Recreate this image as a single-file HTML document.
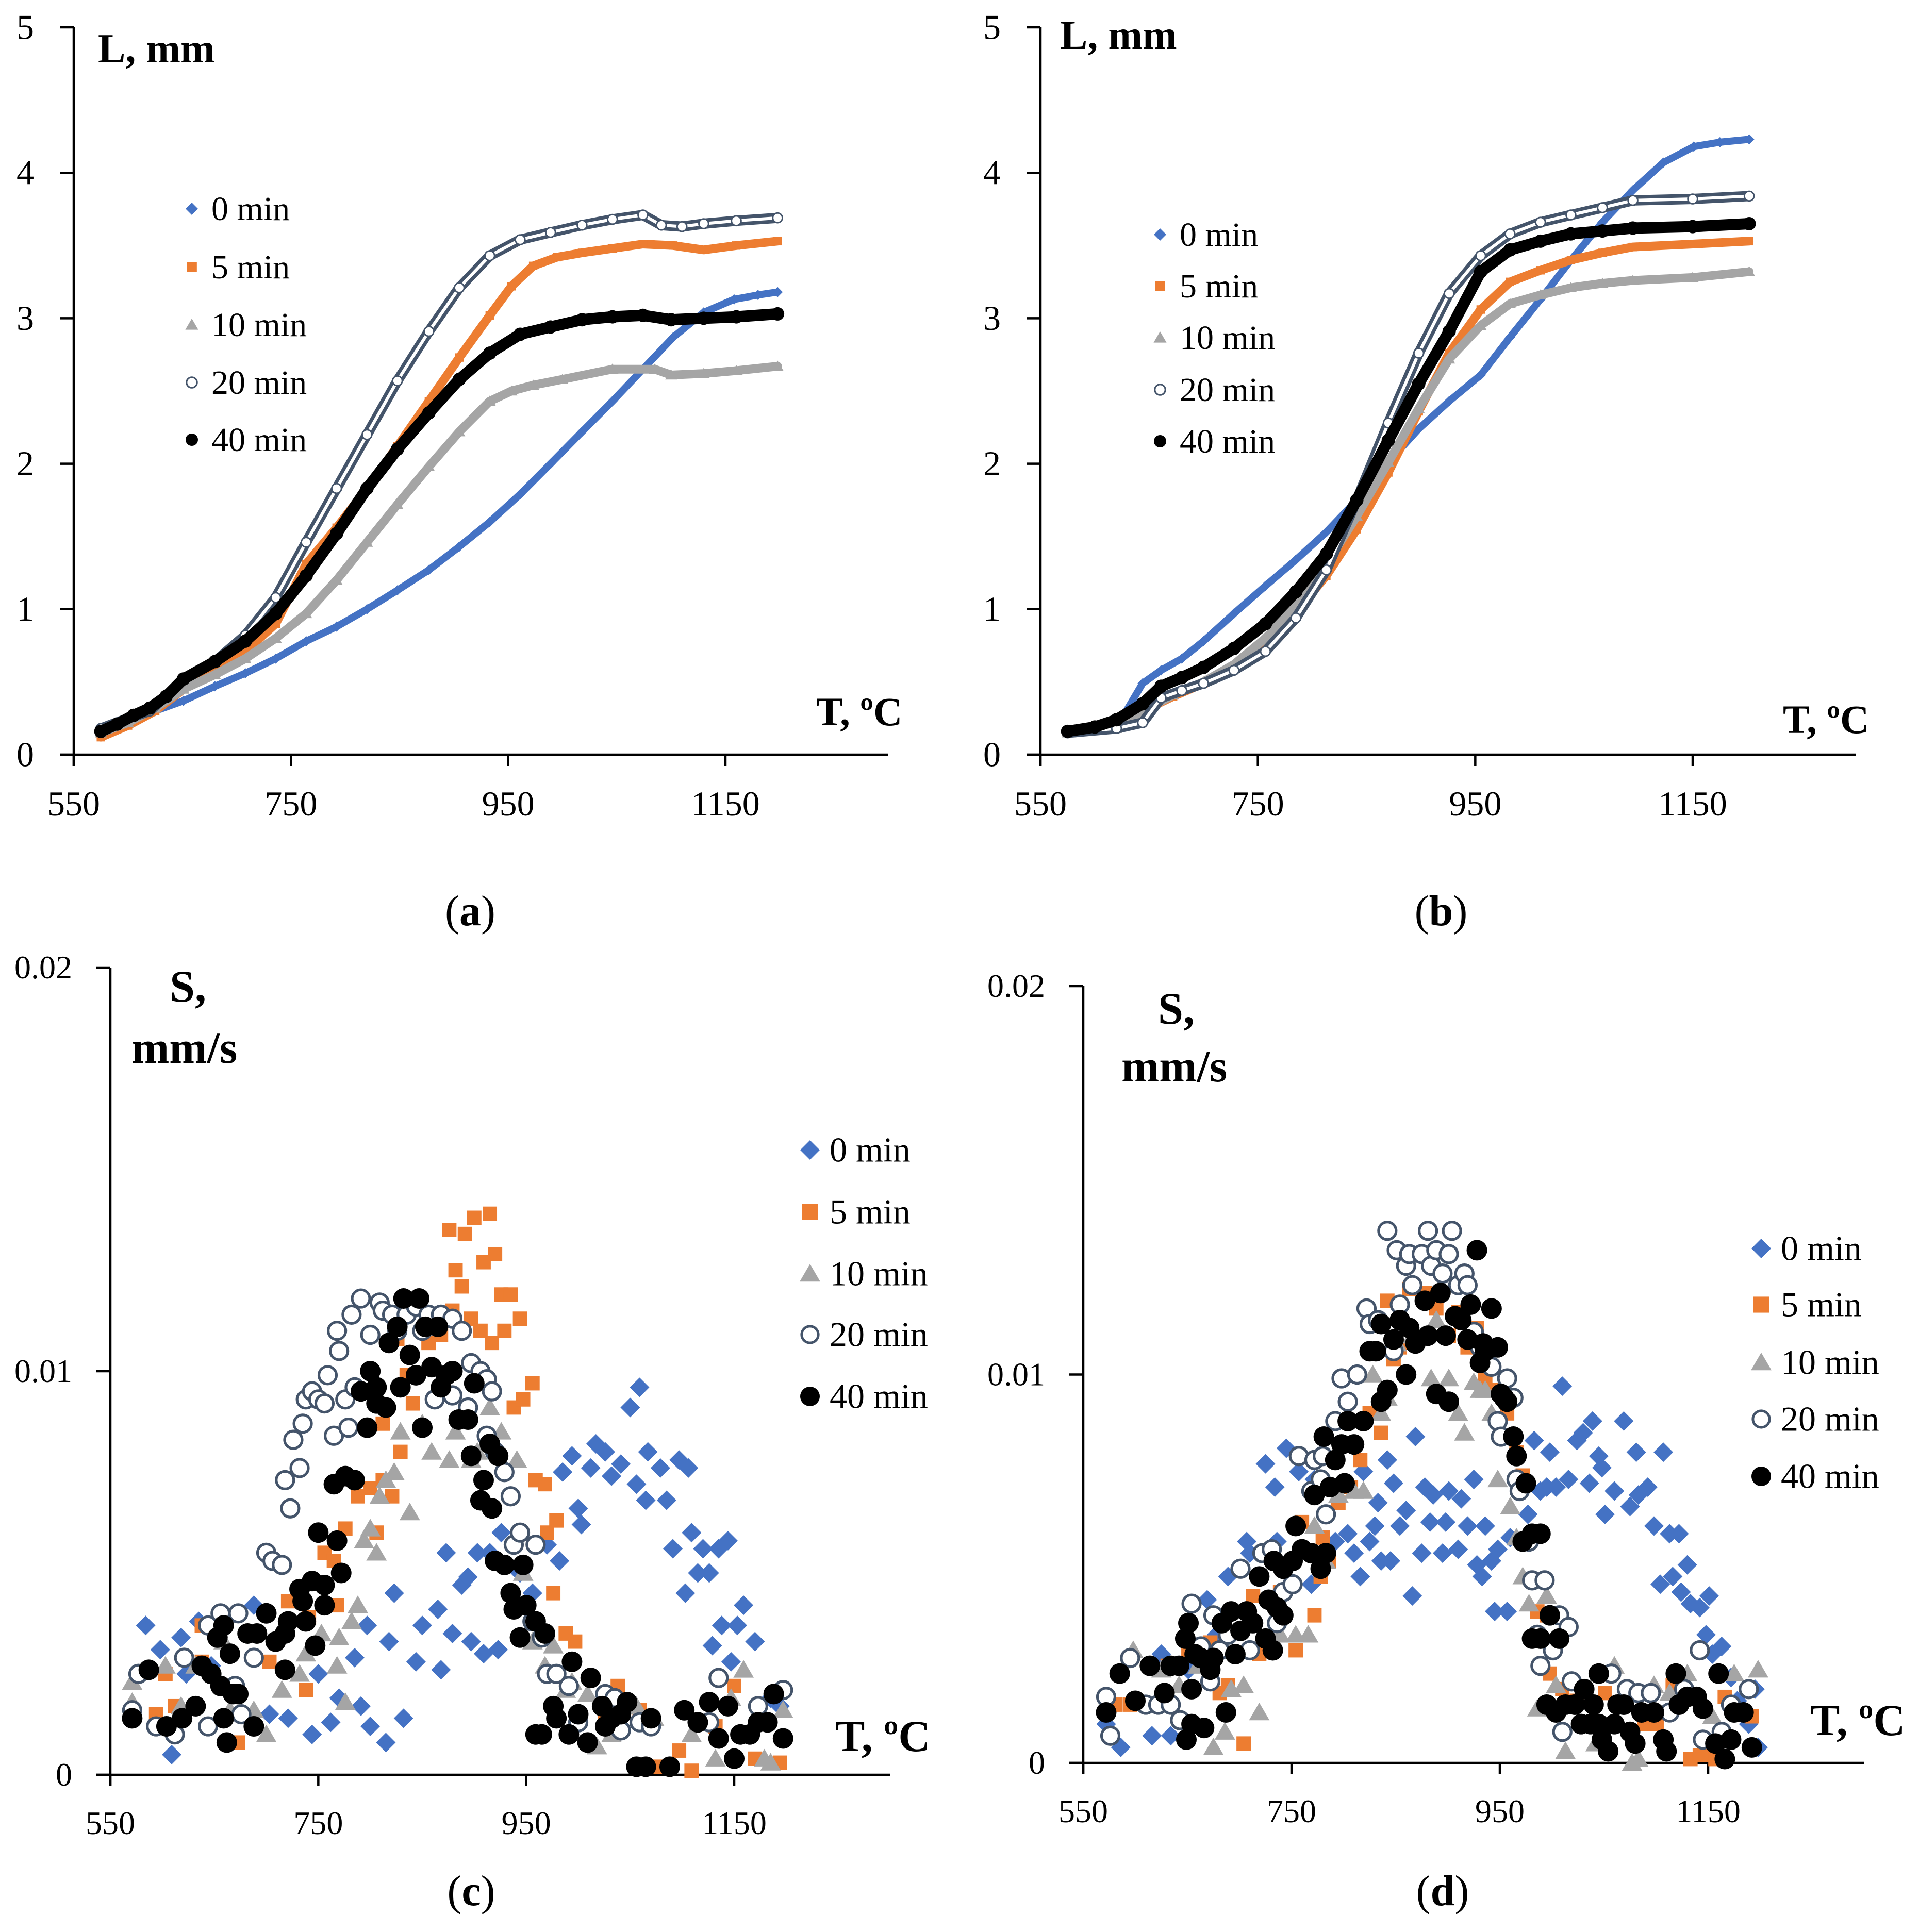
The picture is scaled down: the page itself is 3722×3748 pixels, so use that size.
<!DOCTYPE html>
<html><head><meta charset="utf-8"><style>
html,body{margin:0;padding:0;background:#fff;}
svg{display:block;}
text{font-family:"Liberation Serif",serif;fill:#000;}
</style></head><body>
<svg id="fig" xmlns="http://www.w3.org/2000/svg" width="3722" height="3748" viewBox="0 0 3722 3748"></svg>
<script>
// ---------- Panel (a): L vs T ----------
const A_T0=[575,600,625,651,680,708,736,764,792,820,848,877,905,933,961,989,1018,1046,1074,1102,1130,1158,1180,1198];
const A_L0=[0.15,0.22,0.30,0.37,0.47,0.56,0.66,0.78,0.88,1.00,1.13,1.27,1.43,1.60,1.79,2.00,2.22,2.43,2.65,2.87,3.04,3.13,3.16,3.18];
const A_T5=[575,600,625,651,680,708,736,764,792,820,848,877,905,933,953,973,995,1018,1046,1074,1102,1130,1160,1198];
const A_L5=[0.12,0.20,0.30,0.45,0.57,0.71,0.90,1.31,1.56,1.83,2.12,2.43,2.73,3.02,3.22,3.36,3.42,3.45,3.48,3.51,3.50,3.47,3.50,3.53];
const A_T10=[575,600,625,651,680,708,736,764,792,820,848,877,905,933,953,973,1000,1046,1085,1100,1130,1160,1198];
const A_L10=[0.15,0.22,0.32,0.45,0.55,0.66,0.80,0.97,1.20,1.46,1.72,1.98,2.22,2.43,2.50,2.54,2.58,2.65,2.65,2.61,2.62,2.64,2.67];
const A_T20=[575,600,620,651,680,708,736,764,792,820,848,877,905,933,961,989,1018,1046,1074,1091,1110,1130,1160,1198];
const A_L20=[0.18,0.25,0.30,0.52,0.64,0.82,1.08,1.46,1.83,2.20,2.57,2.91,3.21,3.43,3.54,3.59,3.64,3.68,3.71,3.64,3.63,3.65,3.67,3.69];
const A_T40=[575,590,605,620,635,651,680,708,736,764,792,820,848,877,905,933,961,989,1018,1046,1074,1100,1130,1160,1198];
const A_L40=[0.16,0.21,0.27,0.32,0.40,0.52,0.64,0.78,0.97,1.23,1.52,1.83,2.10,2.35,2.58,2.76,2.89,2.94,2.99,3.01,3.02,2.99,3.00,3.01,3.03];
// ---------- Panel (b): L vs T ----------
const B_T0=[575,600,625,644,661,680,700,728,757,785,813,841,870,898,926,955,982,1010,1038,1067,1095,1123,1151,1175,1202];
const B_L0=[0.15,0.17,0.25,0.49,0.58,0.66,0.78,0.97,1.16,1.34,1.53,1.75,2.01,2.24,2.43,2.61,2.87,3.13,3.40,3.66,3.88,4.07,4.18,4.21,4.23];
const B_T5=[575,620,644,672,700,728,757,785,813,841,870,898,926,955,982,1010,1038,1067,1095,1150,1202];
const B_L5=[0.15,0.18,0.30,0.40,0.49,0.61,0.78,0.98,1.23,1.55,1.94,2.36,2.76,3.06,3.25,3.33,3.40,3.45,3.49,3.51,3.53];
const B_T10=[575,620,644,672,700,728,757,785,813,841,870,898,926,955,982,1010,1038,1067,1095,1150,1202];
const B_L10=[0.15,0.18,0.30,0.41,0.50,0.62,0.80,1.02,1.31,1.64,2.01,2.38,2.72,2.95,3.10,3.16,3.21,3.24,3.26,3.28,3.32];
const B_T20=[575,620,644,661,680,700,728,757,785,813,841,870,898,926,955,982,1010,1038,1067,1095,1150,1202];
const B_L20=[0.15,0.18,0.22,0.39,0.44,0.49,0.58,0.71,0.94,1.27,1.75,2.28,2.76,3.17,3.43,3.58,3.66,3.71,3.76,3.81,3.82,3.84];
const B_T40=[575,600,620,644,661,680,700,728,757,785,813,841,870,898,926,955,982,1010,1038,1067,1095,1150,1202];
const B_L40=[0.16,0.19,0.24,0.35,0.47,0.53,0.60,0.73,0.90,1.12,1.38,1.75,2.16,2.55,2.91,3.32,3.47,3.53,3.58,3.60,3.62,3.63,3.65];
// ---------- Panel (c): S vs T ----------
const C0=[[584,.0037],[598,.0031],[618,.0034],[623,.0025],[609,.0005],[635,.0038],[647,.0027],[688,.0042],[703,.0015],[721,.0014],[744,.0010],[750,.0025],[762,.0013],[770,.0019],[785,.0029],[791,.0017],[800,.0012],[797,.0037],[815,.0008],[823,.0045],[818,.0033],[832,.0014],[844,.0028],[850,.0037],[865,.0041],[868,.0026],[873,.0055],[879,.0035],[888,.0047],[894,.0049],[897,.0033],[903,.0055],[909,.0030],[915,.0055],[923,.0031],[926,.0060],[944,.0050],[956,.0045],[970,.0057],[982,.0053],[985,.0075],[994,.0079],[1000,.0066],[1003,.0062],[1012,.0076],[1017,.0082],[1026,.0080],[1032,.0074],[1041,.0077],[1050,.0091],[1059,.0096],[1056,.0072],[1065,.0068],[1067,.0080],[1079,.0076],[1085,.0068],[1091,.0056],[1097,.0078],[1106,.0076],[1103,.0045],[1109,.0060],[1115,.0050],[1120,.0056],[1126,.0050],[1135,.0056],[1144,.0058],[1129,.0032],[1138,.0037],[1153,.0037],[1159,.0042],[1147,.0028],[1170,.0033],[1173,.0017],[1185,.0019],[1194,.0017]];
const C5=[[603,.0025],[612,.0017],[594,.0015],[638,.0037],[638,.0028],[673,.0008],[703,.0028],[721,.0043],[738,.0021],[741,.0039],[756,.0055],[765,.0053],[776,.0061],[768,.0042],[788,.0069],[800,.0071],[806,.0060],[812,.0073],[821,.0069],[812,.0087],[829,.0080],[835,.0099],[841,.0092],[826,.0108],[856,.0107],[868,.0109],[876,.0135],[882,.0125],[888,.0121],[891,.0134],[900,.0138],[915,.0139],[879,.0115],[897,.0113],[909,.0127],[920,.0129],[906,.0110],[917,.0107],[926,.0119],[935,.0119],[929,.0110],[944,.0113],[938,.0091],[947,.0093],[956,.0097],[959,.0073],[968,.0072],[970,.0060],[979,.0063],[976,.0045],[988,.0035],[997,.0033],[1026,.0014],[1038,.0022],[1059,.0016],[1079,.0002],[1097,.0006],[1109,.0001],[1132,.0012],[1150,.0022],[1170,.0004],[1194,.0003]];
const C10=[[571,.0023],[571,.0018],[603,.0027],[618,.0017],[632,.0027],[659,.0033],[665,.0016],[688,.0016],[700,.0010],[715,.0021],[732,.0025],[738,.0030],[753,.0035],[768,.0027],[770,.0034],[776,.0018],[782,.0038],[788,.0042],[794,.0058],[800,.0061],[806,.0055],[809,.0069],[815,.0073],[823,.0075],[829,.0085],[838,.0065],[850,.0087],[859,.0080],[868,.0096],[876,.0078],[882,.0085],[897,.0078],[903,.0080],[915,.0091],[926,.0085],[941,.0078],[947,.0050],[956,.0033],[968,.0027],[976,.0032],[988,.0021],[994,.0023],[1009,.0020],[1018,.0007],[1032,.0010],[1056,.0017],[1073,.0014],[1109,.0010],[1132,.0004],[1147,.0019],[1159,.0026],[1179,.0004],[1185,.0003],[1197,.0016]];
const C20=[[571,.0016],[577,.0025],[594,.0012],[612,.0010],[621,.0029],[644,.0037],[656,.0040],[644,.0012],[673,.0040],[670,.0022],[676,.0015],[688,.0029],[700,.0055],[706,.0053],[715,.0052],[718,.0073],[723,.0066],[732,.0076],[726,.0083],[735,.0087],[738,.0093],[744,.0095],[750,.0093],[756,.0092],[759,.0099],[765,.0084],[768,.0110],[770,.0105],[776,.0093],[779,.0086],[782,.0114],[785,.0096],[791,.0118],[800,.0109],[809,.0117],[812,.0115],[821,.0114],[826,.0110],[835,.0114],[844,.0116],[850,.0110],[856,.0114],[868,.0114],[879,.0113],[888,.0110],[862,.0093],[879,.0094],[894,.0091],[897,.0102],[906,.0100],[912,.0098],[917,.0095],[912,.0084],[920,.0080],[929,.0075],[935,.0069],[938,.0057],[944,.0060],[959,.0057],[956,.0038],[965,.0034],[970,.0025],[979,.0025],[991,.0022],[991,.0010],[1000,.0013],[1026,.0020],[1035,.0019],[1041,.0011],[1059,.0013],[1070,.0012],[1135,.0024],[1126,.0013],[1156,.0010],[1173,.0017],[1197,.0021]];
const C40=[[571,.0014],[587,.0026],[604,.0012],[619,.0014],[632,.0017],[638,.0027],[647,.0025],[653,.0034],[659,.0037],[665,.0030],[656,.0022],[662,.0008],[668,.0020],[673,.0020],[659,.0014],[688,.0012],[682,.0035],[691,.0035],[700,.0040],[709,.0033],[718,.0035],[721,.0038],[718,.0026],[732,.0046],[735,.0043],[738,.0038],[744,.0048],[747,.0032],[750,.0060],[756,.0047],[756,.0042],[768,.0058],[772,.0050],[765,.0072],[776,.0074],[785,.0073],[797,.0086],[791,.0095],[800,.0100],[806,.0092],[806,.0096],[815,.0091],[826,.0111],[818,.0107],[829,.0096],[832,.0118],[838,.0104],[844,.0099],[847,.0118],[850,.0086],[853,.0111],[859,.0101],[865,.0111],[868,.0096],[873,.0099],[879,.0100],[885,.0088],[894,.0088],[897,.0079],[900,.0097],[906,.0068],[909,.0073],[915,.0082],[917,.0066],[923,.0079],[920,.0053],[929,.0052],[935,.0045],[938,.0041],[947,.0052],[950,.0042],[944,.0034],[959,.0038],[968,.0035],[959,.0010],[965,.0010],[976,.0017],[979,.0014],[991,.0010],[994,.0028],[1000,.0015],[1012,.0024],[1009,.0008],[1023,.0017],[1026,.0012],[1032,.0014],[1041,.0015],[1047,.0018],[1056,.0002],[1065,.0002],[1070,.0014],[1088,.0002],[1102,.0016],[1115,.0013],[1126,.0018],[1135,.0009],[1144,.0017],[1150,.0004],[1156,.0010],[1165,.0010],[1173,.0013],[1182,.0013],[1188,.0020],[1197,.0009]];
// ---------- Panel (d): S vs T ----------
const D0=[[572,.0010],[586,.0004],[616,.0007],[634,.0007],[625,.0028],[651,.0024],[669,.0042],[678,.0033],[689,.0048],[707,.0057],[710,.0054],[725,.0077],[734,.0071],[736,.0057],[745,.0081],[757,.0075],[769,.0046],[772,.0073],[783,.0071],[792,.0057],[804,.0059],[810,.0054],[816,.0048],[819,.0075],[825,.0057],[830,.0061],[833,.0067],[836,.0052],[842,.0078],[845,.0052],[848,.0072],[854,.0061],[860,.0065],[866,.0043],[869,.0084],[875,.0054],[878,.0071],[883,.0062],[886,.0069],[895,.0054],[898,.0062],[901,.0070],[910,.0055],[913,.0068],[919,.0061],[925,.0073],[928,.0051],[933,.0048],[936,.0061],[942,.0052],[945,.0039],[948,.0055],[957,.0039],[960,.0058],[977,.0064],[983,.0083],[989,.0070],[995,.0071],[998,.0080],[1004,.0071],[1010,.0097],[1016,.0073],[1024,.0083],[1030,.0085],[1036,.0072],[1039,.0088],[1045,.0079],[1048,.0076],[1051,.0064],[1060,.0070],[1069,.0088],[1075,.0066],[1081,.0080],[1083,.0069],[1092,.0071],[1098,.0061],[1104,.0046],[1107,.0080],[1113,.0059],[1116,.0048],[1122,.0059],[1124,.0044],[1130,.0051],[1133,.0041],[1142,.0040],[1148,.0033],[1151,.0043],[1154,.0028],[1163,.0030],[1172,.0022],[1178,.0016],[1189,.0010],[1195,.0019],[1198,.0004]];
const D5=[[581,.0015],[595,.0015],[631,.0025],[651,.0028],[672,.0031],[681,.0018],[689,.0020],[704,.0005],[713,.0043],[719,.0028],[739,.0044],[754,.0029],[760,.0062],[772,.0038],[778,.0048],[780,.0058],[786,.0052],[795,.0067],[807,.0071],[816,.0078],[825,.0090],[836,.0085],[842,.0119],[848,.0104],[854,.0107],[863,.0122],[878,.0121],[889,.0117],[901,.0110],[910,.0116],[919,.0107],[928,.0112],[936,.0099],[945,.0096],[957,.0090],[966,.0080],[972,.0074],[986,.0039],[995,.0038],[998,.0023],[1010,.0019],[1024,.0016],[1051,.0018],[1069,.0015],[1089,.0010],[1101,.0010],[1116,.0020],[1133,.0001],[1142,.0002],[1148,.0002],[1157,.0001],[1166,.0017],[1192,.0012]];
const D10=[[572,.0015],[598,.0029],[625,.0024],[642,.0020],[660,.0025],[675,.0004],[686,.0008],[692,.0019],[704,.0020],[719,.0013],[739,.0033],[754,.0033],[766,.0033],[772,.0061],[783,.0052],[795,.0069],[810,.0070],[819,.0070],[828,.0100],[836,.0090],[842,.0094],[851,.0108],[866,.0110],[884,.0099],[889,.0114],[901,.0099],[910,.0090],[916,.0085],[925,.0098],[931,.0096],[936,.0096],[942,.0090],[948,.0073],[960,.0066],[966,.0058],[972,.0048],[978,.0041],[986,.0014],[995,.0043],[1004,.0020],[1013,.0003],[1042,.0005],[1045,.0023],[1060,.0025],[1077,.0000],[1083,.0001],[1098,.0020],[1113,.0018],[1130,.0023],[1154,.0012],[1175,.0023],[1198,.0024]];
const D20=[[572,.0017],[576,.0007],[595,.0027],[610,.0015],[622,.0015],[634,.0015],[643,.0011],[654,.0041],[663,.0030],[672,.0021],[675,.0038],[681,.0029],[689,.0033],[701,.0050],[710,.0029],[722,.0054],[731,.0055],[736,.0036],[742,.0044],[751,.0046],[757,.0079],[769,.0070],[772,.0078],[778,.0073],[780,.0079],[783,.0064],[792,.0088],[798,.0099],[804,.0093],[813,.0100],[822,.0117],[825,.0113],[833,.0114],[842,.0137],[848,.0106],[851,.0132],[854,.0118],[860,.0128],[863,.0131],[866,.0123],[875,.0131],[881,.0137],[884,.0128],[889,.0132],[895,.0126],[901,.0131],[904,.0137],[910,.0123],[916,.0126],[919,.0123],[922,.0118],[925,.0111],[931,.0107],[942,.0102],[948,.0088],[951,.0084],[957,.0099],[963,.0094],[966,.0073],[969,.0070],[978,.0057],[981,.0047],[993,.0047],[986,.0033],[989,.0025],[1001,.0029],[1007,.0038],[1016,.0035],[1010,.0008],[1019,.0021],[1057,.0023],[1072,.0019],[1083,.0018],[1095,.0018],[1113,.0013],[1127,.0019],[1142,.0029],[1145,.0006],[1163,.0008],[1172,.0015],[1189,.0019]];
const D40=[[572,.0013],[585,.0023],[600,.0016],[614,.0025],[628,.0018],[634,.0025],[642,.0025],[648,.0032],[651,.0036],[654,.0019],[657,.0028],[649,.0006],[654,.0010],[663,.0027],[666,.0009],[672,.0024],[675,.0027],[683,.0036],[687,.0013],[692,.0039],[696,.0028],[701,.0034],[707,.0039],[713,.0036],[719,.0048],[725,.0032],[728,.0042],[732,.0029],[736,.0040],[742,.0038],[733,.0052],[742,.0050],[751,.0052],[754,.0061],[760,.0055],[769,.0054],[778,.0050],[783,.0054],[772,.0069],[781,.0084],[787,.0071],[792,.0078],[798,.0082],[801,.0072],[804,.0088],[810,.0082],[819,.0088],[825,.0106],[831,.0106],[836,.0093],[842,.0096],[836,.0113],[848,.0109],[854,.0114],[863,.0112],[860,.0100],[869,.0108],[878,.0119],[881,.0110],[889,.0095],[893,.0121],[898,.0110],[901,.0093],[907,.0115],[913,.0114],[919,.0109],[922,.0118],[928,.0132],[931,.0103],[934,.0108],[936,.0106],[942,.0117],[948,.0107],[951,.0095],[954,.0094],[957,.0093],[963,.0084],[966,.0079],[975,.0072],[972,.0057],[981,.0059],[989,.0059],[998,.0038],[981,.0032],[989,.0032],[1007,.0032],[995,.0015],[1004,.0013],[1013,.0015],[1022,.0015],[1028,.0010],[1031,.0019],[1037,.0010],[1040,.0015],[1045,.0010],[1048,.0006],[1045,.0023],[1054,.0003],[1060,.0010],[1063,.0015],[1069,.0015],[1075,.0008],[1080,.0005],[1086,.0013],[1098,.0013],[1107,.0006],[1110,.0003],[1119,.0023],[1122,.0015],[1130,.0017],[1139,.0017],[1145,.0014],[1157,.0005],[1160,.0023],[1166,.0001],[1172,.0006],[1175,.0013],[1184,.0013],[1192,.0004]];
// ---------- Ticks & legend labels ----------
const X_TICKS=[550,750,950,1150];
const L_TICKS=[0,1,2,3,4,5];
const S_TICKS=[0,0.01,0.02];
const S_TICK_LABELS=["0","0.01","0.02"];
const SERIES_NAMES=["0 min","5 min","10 min","20 min","40 min"];

const NS="http://www.w3.org/2000/svg";
const fig=document.getElementById('fig');
const COL=["#4472C4","#ED7D31","#A5A5A5","#44546A","#000000"];
function el(tag,attrs,parent){const e=document.createElementNS(NS,tag);for(const k in attrs)e.setAttribute(k,attrs[k]);(parent||fig).appendChild(e);return e;}

function marker(g,kind,cx,cy,s){
  let m;
  if(kind===0){m=el('path',{d:`M${cx} ${cy-s}L${cx+s} ${cy}L${cx} ${cy+s}L${cx-s} ${cy}Z`,fill:COL[0]},g);}
  else if(kind===1){const h=s*0.82;m=el('rect',{x:cx-h,y:cy-h,width:2*h,height:2*h,fill:COL[1]},g);}
  else if(kind===2){const h=s*1.0;m=el('path',{d:`M${cx} ${cy-h}L${cx+h*1.05} ${cy+h*0.8}L${cx-h*1.05} ${cy+h*0.8}Z`,fill:COL[2]},g);}
  else if(kind===3){m=el('circle',{cx:cx,cy:cy,r:s*0.85,fill:'#fff',stroke:COL[3],'stroke-width':s*0.26},g);}
  else {m=el('circle',{cx:cx,cy:cy,r:s,fill:'#000'},g);}
  
  
  return m;
}

function axes(p){
  const g=el('g',{});
  
  
  const xl=el('line',{x1:p.ax-27,y1:p.y0,x2:p.xend,y2:p.y0,stroke:'#000','stroke-width':4.5},g);
  
  
  const yl=el('line',{x1:p.ax,y1:p.ytop,x2:p.ax,y2:p.y0+22,stroke:'#000','stroke-width':4.5},g);
  
  
  X_TICKS.forEach(t=>{
    const x=p.X(t);
    el('line',{x1:x,y1:p.y0,x2:x,y2:p.y0+22,stroke:'#000','stroke-width':4.5},g);
    const tx=el('text',{x:x,y:p.y0+p.xlab,'text-anchor':'middle','font-size':p.tfs},g);
    tx.textContent=t;
    
    
  });
  p.yticks.forEach((v,i)=>{
    const y=p.Y(v);
    el('line',{x1:p.ax-27,y1:y,x2:p.ax,y2:y,stroke:'#000','stroke-width':4.5},g);
    const tx=el('text',{x:p.ylabx,y:y+p.tfs*0.33,'text-anchor':'end','font-size':p.tfs},g);
    tx.textContent=p.ylabels[i];
    
    
  });
}

function label(x,y,txt,fs,name,bold){
  const t=el('text',{x:x,y:y,'font-size':fs,'font-weight':bold?'bold':'normal'});
  t.textContent=txt;
  
  
  return t;
}

function lineSeries(p,Ts,Ls,k){
  const g=el('g',{});
  
  
  const d=Ts.map((t,i)=>(i?'L':'M')+p.X(t).toFixed(1)+' '+p.Y(Ls[i]).toFixed(1)).join('');
  const w=[14,17,17,20,22][k];
  el('path',{d:d,fill:'none',stroke:COL[k],'stroke-width':w,'stroke-linejoin':'round','stroke-linecap':'round'},g);
  if(k===3) el('path',{d:d,fill:'none',stroke:'#fff','stroke-width':6,'stroke-linejoin':'round'},g);
  Ts.forEach((t,i)=>marker(g,k,p.X(t),p.Y(Ls[i]),[10,10,11,11,13][k]));
}

function scatterSeries(p,pts,k){
  const g=el('g',{});
  
  
  pts.forEach(q=>marker(g,k,p.X(q[0]),p.Y(q[1]),[19,17,19,20,20][k]));
}

function legend(x,tx,ys,fs,ms){
  const g=el('g',{});
  
  
  ys.forEach((y,k)=>{
    const e=el('g',{},g);
    
    
    marker(e,k,x,y,ms);
    const t=el('text',{x:tx,y:y+fs*0.33,'font-size':fs},e);
    t.textContent=SERIES_NAMES[k];
  });
}

function mk(id,ax,x1150,xend,y0,ytop,vmax,yticks,ylabels,ylabx,tfs,xlab){
  const kx=(x1150-ax)/600;
  return {id,ax,xend,y0,ytop,yticks,ylabels,ylabx,tfs,xlab,
    X:t=>ax+(t-550)*kx, Y:v=>y0-(v/vmax)*(y0-ytop)};
}
const Lstr=L_TICKS.map(String);
const pa=mk('panel-a',143,1407,1723,1464,53,5,L_TICKS,Lstr,66,68,118);
const pb=mk('panel-b',2018,3283,3600,1464,53,5,L_TICKS,Lstr,1941,68,118);
const pc=mk('panel-c',214,1424,1727,3443,1877,0.02,S_TICKS,S_TICK_LABELS,140,64,115);
const pd=mk('panel-d',2101,3313,3616,3420,1913,0.02,S_TICKS,S_TICK_LABELS,2027,64,115);

[pa,pb,pc,pd].forEach(axes);

lineSeries(pa,A_T0,A_L0,0);lineSeries(pa,A_T5,A_L5,1);lineSeries(pa,A_T10,A_L10,2);lineSeries(pa,A_T20,A_L20,3);lineSeries(pa,A_T40,A_L40,4);
lineSeries(pb,B_T0,B_L0,0);lineSeries(pb,B_T5,B_L5,1);lineSeries(pb,B_T10,B_L10,2);lineSeries(pb,B_T20,B_L20,3);lineSeries(pb,B_T40,B_L40,4);
[C0,C5,C10,C20,C40].forEach((s,k)=>scatterSeries(pc,s,k));
[D0,D5,D10,D20,D40].forEach((s,k)=>scatterSeries(pd,s,k));

legend(372,410,[405,518,630,742,853],66,12);
legend(2250,2288,[455,555,655,756,856],66,12);
legend(1571,1609,[2231,2351,2471,2589,2709],68,19);
legend(3416,3454,[2422,2531,2643,2753,2864],68,19);

label(190,121,'L, mm',80,'y-axis-title',true);
label(1583,1407,'T, ºC',78,'x-axis-title',true);
label(2056,95,'L, mm',80,'y-axis-title',true);
label(3458,1422,'T, ºC',78,'x-axis-title',true);
label(329,1943,'S,',88,'y-axis-title',true);
label(255,2062,'mm/s',88,'y-axis-title',true);
label(1620,3397,'T, ºC',86,'x-axis-title',true);
label(2246,1986,'S,',88,'y-axis-title',true);
label(2175,2098,'mm/s',88,'y-axis-title',true);
label(3511,3366,'T, ºC',86,'x-axis-title',true);

function plabel(cx,y,ch,name){
  const t=el('text',{x:cx,y:y,'text-anchor':'middle','font-size':84});
  
  
  const a=el('tspan',{},t);a.textContent='(';
  const b=el('tspan',{'font-weight':'bold'},t);b.textContent=ch;
  const c=el('tspan',{},t);c.textContent=')';
}
plabel(912,1795,'a','panel-label-a');
plabel(2795,1795,'b','panel-label-b');
plabel(914,3696,'c','panel-label-c');
plabel(2798,3696,'d','panel-label-d');
</script>
</body></html>
